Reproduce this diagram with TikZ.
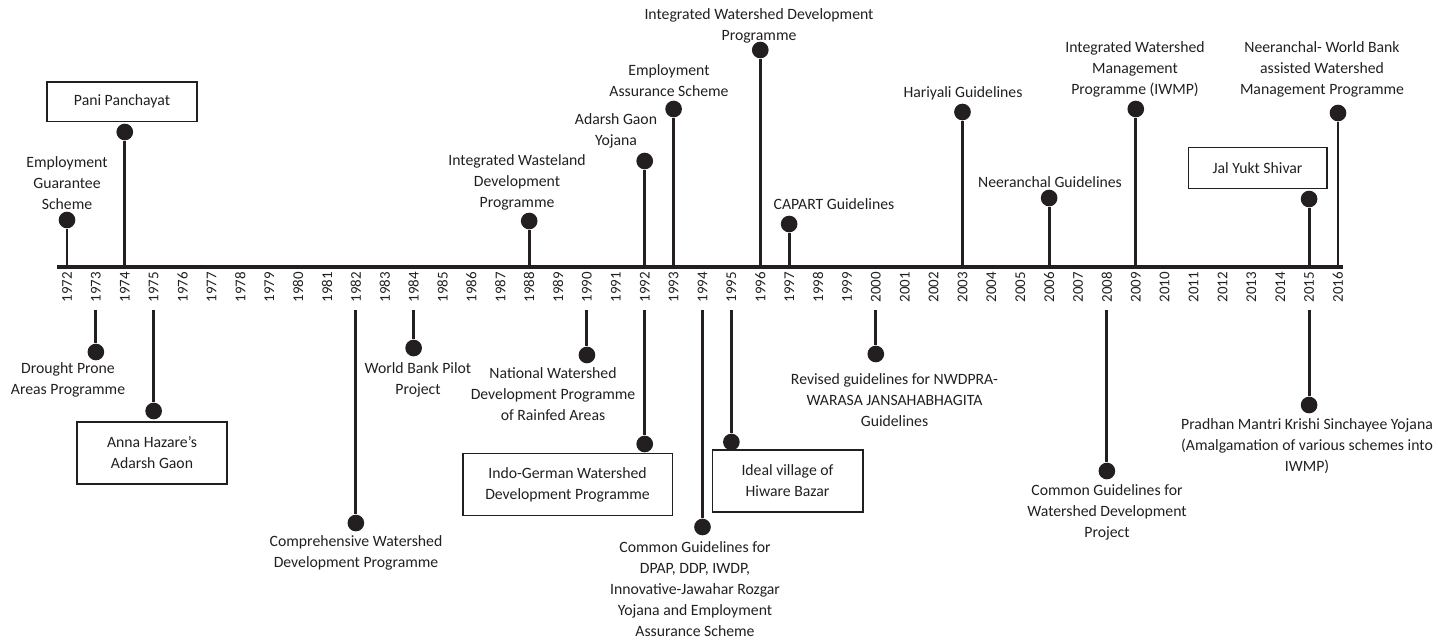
\documentclass[tikz,border=0pt]{standalone}
\usepackage{fontspec}
\setmainfont{Carlito}
\usetikzlibrary{positioning}
\definecolor{ink}{RGB}{35,31,32}
\newcommand{\yrx}[1]{67+(#1-1972)*28.886}

\begin{document}
\begin{tikzpicture}[x=0.75pt,y=-0.75pt,
  dotnode/.style={circle,fill=ink,inner sep=0pt,minimum size=12.5pt},
  stem/.style={draw=ink,line width=2.2pt},
  evtext/.style={align=center,inner sep=0pt,text=ink,font=\fontsize{11.8}{15.75}\selectfont},
  evbox/.style={evtext,draw=ink,line width=1pt},
  yearlbl/.style={rotate=90,anchor=east,inner sep=0pt,text=ink,font=\fontsize{11.2}{13}\selectfont}]
\useasboundingbox (0,0) rectangle (1438,640);

% time axis
\coordinate (L) at (57,267);
\coordinate (R) at (1343,267);
\draw[ink,line width=3pt] (L) -- (R);
\foreach \yr [count=\i from 0] in {1972,...,2016} {
  \coordinate (a\yr) at ({67+\i*28.886},267);
  \coordinate (b\yr) at ({67+\i*28.886},310);
  \node[yearlbl] (t\yr) at ({67+\i*28.886},272) {\yr};
}

% above the axis
\node[dotnode] (d1972) at ({\yrx{1972}},220) {};
\draw[stem] (a1972) -- (d1972);
\node[evtext] (l1972) at (67,183) {Employment\\Guarantee\\Scheme};

\node[dotnode] (d1974) at ({\yrx{1974}},132) {};
\draw[stem] (a1974) -- (d1974);
\node[evbox,minimum width=112.5pt,minimum height=29.5pt] (l1974) at (122,101.5) {Pani Panchayat};

\node[dotnode] (d1988) at ({\yrx{1988}},221) {};
\draw[stem] (a1988) -- (d1988);
\node[evtext] (l1988) at (517,182) {Integrated Wasteland\\Development\\Programme};

\node[dotnode] (d1992) at ({\yrx{1992}},161) {};
\draw[stem] (a1992) -- (d1992);
\node[evtext] (l1992) at (616,130.5) {Adarsh Gaon\\Yojana};

\node[dotnode] (d1993) at ({\yrx{1993}},109) {};
\draw[stem] (a1993) -- (d1993);
\node[evtext] (l1993) at (669,81) {Employment\\Assurance Scheme};

\node[dotnode] (d1996) at ({\yrx{1996}},50) {};
\draw[stem] (a1996) -- (d1996);
\node[evtext] (l1996) at (759,25.5) {Integrated Watershed Development\\Programme};

\node[dotnode] (d1997) at ({\yrx{1997}},224) {};
\draw[stem] (a1997) -- (d1997);
\node[evtext] (l1997) at (834,204) {CAPART Guidelines};

\node[dotnode] (d2003) at ({\yrx{2003}},112) {};
\draw[stem] (a2003) -- (d2003);
\node[evtext] (l2003) at (963,93) {Hariyali Guidelines};

\node[dotnode] (d2006) at ({\yrx{2006}},198) {};
\draw[stem] (a2006) -- (d2006);
\node[evtext] (l2006) at (1050,182) {Neeranchal Guidelines};

\node[dotnode] (d2009) at ({\yrx{2009}},109) {};
\draw[stem] (a2009) -- (d2009);
\node[evtext] (l2009) at (1135,69) {Integrated Watershed\\Management\\Programme (IWMP)};

\node[dotnode] (d2015) at ({\yrx{2015}},199) {};
\draw[stem] (a2015) -- (d2015);
\node[evbox,minimum width=104pt,minimum height=31pt] (l2015) at (1257.5,168) {Jal Yukt Shivar};

\node[dotnode] (d2016) at ({\yrx{2016}},113) {};
\draw[stem] (a2016) -- (d2016);
\node[evtext] (l2016) at (1322,69) {Neeranchal- World Bank\\assisted Watershed\\Management Programme};

% below the axis
\node[dotnode] (e1973) at ({\yrx{1973}},352) {};
\draw[stem] (b1973) -- (e1973);
\node[evtext] (m1973) at (68,379.5) {Drought Prone\\Areas Programme};

\node[dotnode] (e1975) at ({\yrx{1975}},411) {};
\draw[stem] (b1975) -- (e1975);
\node[evbox,minimum width=112.5pt,minimum height=46.5pt] (m1975) at (152,453) {Anna Hazare’s\\Adarsh Gaon};

\node[dotnode] (e1982) at ({\yrx{1982}},523) {};
\draw[stem] (b1982) -- (e1982);
\node[evtext] (m1982) at (356,553) {Comprehensive Watershed\\Development Programme};

\node[dotnode] (e1984) at ({\yrx{1984}},348) {};
\draw[stem] (b1984) -- (e1984);
\node[evtext] (m1984) at (418,379.5) {World Bank Pilot\\Project};

\node[dotnode] (e1990) at ({\yrx{1990}},355) {};
\draw[stem] (b1990) -- (e1990);
\node[evtext] (m1990) at (553,394) {National Watershed\\Development Programme\\of Rainfed Areas};

\node[dotnode] (e1992) at ({\yrx{1992}},444) {};
\draw[stem] (b1992) -- (e1992);
\node[evbox,minimum width=157pt,minimum height=46.5pt] (m1992) at (567.5,484.5) {Indo-German Watershed\\Development Programme};

\node[dotnode] (e1994) at ({\yrx{1994}},527) {};
\draw[stem] (b1994) -- (e1994);
\node[evtext] (m1994) at (695,589) {Common Guidelines for\\DPAP, DDP, IWDP,\\Innovative-Jawahar Rozgar\\Yojana and Employment\\Assurance Scheme};

\node[dotnode] (e1995) at ({\yrx{1995}},442) {};
\draw[stem] (b1995) -- (e1995);
\node[evbox,minimum width=113pt,minimum height=46.5pt] (m1995) at (787.5,481) {Ideal village of\\Hiware Bazar};

\node[dotnode] (e2000) at ({\yrx{2000}},354) {};
\draw[stem] (b2000) -- (e2000);
\node[evtext] (m2000) at (894.5,400) {Revised guidelines for NWDPRA-\\WARASA JANSAHABHAGITA\\Guidelines};

\node[dotnode] (e2008) at ({\yrx{2008}},471) {};
\draw[stem] (b2008) -- (e2008);
\node[evtext] (m2008) at (1107,512) {Common Guidelines for\\Watershed Development\\Project};

\node[dotnode] (e2015) at ({\yrx{2015}},405) {};
\draw[stem] (b2015) -- (e2015);
\node[evtext] (m2015) at (1307,446.5) {Pradhan Mantri Krishi Sinchayee Yojana\\(Amalgamation of various schemes into\\IWMP)};
\end{tikzpicture}
\end{document}
